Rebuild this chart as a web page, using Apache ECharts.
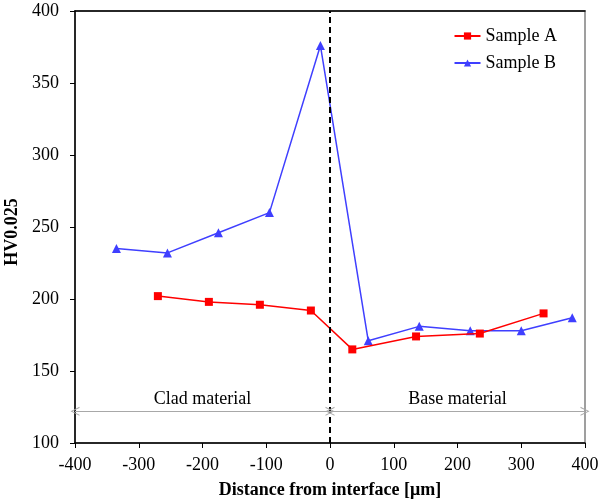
<!DOCTYPE html>
<html>
<head>
<meta charset="utf-8">
<script src="https://cdn.jsdelivr.net/npm/echarts@6/dist/echarts.min.js"></script>
<style>
  html, body { margin: 0; padding: 0; background: #fff; }
  #chart { width: 600px; height: 502px; }
</style>
</head>
<body>
<div id="chart"></div>
<script>
// hardness profile across the interface
var sampleAX = [-270, -190, -110, -30, 35, 135, 235, 335]
var sampleAY = [202, 198, 196, 192, 165, 174, 176, 190]
var sampleBX = [-335, -255, -175, -95, -15, 60, 140, 220, 300, 380]
var sampleBY = [235, 232, 246, 260, 376, 171, 181, 178, 178, 187]
var regionNames = ['Clad material', 'Base material']
var regionSpans = [[-400, 0], [0, 400]]
var arrowLevel = 122

var font = 'Liberation Serif, Times New Roman, serif'
// open arrow head, pointing up (echarts rotates it along the line)
var chevron = 'path://M0,10 L5,0 L10,10 L8.8,10 L5,2.2 L1.2,10 Z'

function pairs(xs, ys) {
  return xs.map(function (x, i) { return [x, ys[i]] })
}

var chart = echarts.init(document.getElementById('chart'))
chart.setOption({
  animation: false,
  textStyle: { fontFamily: font },
  grid: {
    left: 75,
    right: 15,
    top: 11,
    bottom: 59,
    outerBoundsMode: 'none',
    containLabel: false,
    show: true,
    borderColor: '#808080',
    borderWidth: 1.5
  },
  legend: {
    orient: 'vertical',
    right: 38,
    top: 22,
    itemWidth: 26,
    itemHeight: 9,
    itemGap: 9,
    textStyle: { fontFamily: font, fontSize: 18, color: '#000' },
    data: ['Sample A', 'Sample B']
  },
  xAxis: [{
    type: 'value',
    min: -400,
    max: 400,
    interval: 100,
    name: 'Distance from interface [\u03bcm]',
    nameLocation: 'middle',
    nameGap: 38,
    nameTextStyle: { fontFamily: font, fontSize: 18, fontWeight: 'bold', color: '#000' },
    axisLine: { onZero: false, lineStyle: { color: '#000', width: 1.5 } },
    axisTick: { length: 5, lineStyle: { color: '#000' } },
    axisLabel: { margin: 13, fontFamily: font, fontSize: 18, color: '#000' },
    splitLine: { show: false }
  }, {
    // top frame line
    type: 'value',
    position: 'top',
    min: -400,
    max: 400,
    axisLine: { show: true, onZero: false, lineStyle: { color: '#000', width: 1.5 } },
    axisTick: { show: false },
    axisLabel: { show: false },
    splitLine: { show: false }
  }],
  yAxis: {
    type: 'value',
    min: 100,
    max: 400,
    interval: 50,
    name: 'HV0.025',
    nameLocation: 'middle',
    nameGap: 45,
    nameTextStyle: { fontFamily: font, fontSize: 18, fontWeight: 'bold', color: '#000', padding: [0, 10, 0, 0] },
    axisLine: { show: true, onZero: false, lineStyle: { color: '#000', width: 1.5 } },
    axisTick: { show: true, length: 5, lineStyle: { color: '#000' } },
    axisLabel: { margin: 16, fontFamily: font, fontSize: 18, color: '#000' },
    splitLine: { show: false }
  },
  series: [
    {
      name: 'Sample A',
      type: 'line',
      data: pairs(sampleAX, sampleAY),
      symbol: 'rect',
      symbolSize: 8,
      itemStyle: { color: '#ff0000' },
      lineStyle: { color: '#ff0000', width: 1.5 },
      z: 3,
      markLine: {
        silent: true,
        symbol: ['none', 'none'],
        label: { show: false },
        lineStyle: { color: '#000', type: [6, 4], width: 2 },
        data: [{ xAxis: 0 }]
      }
    },
    {
      name: 'Sample B',
      type: 'line',
      data: pairs(sampleBX, sampleBY),
      symbol: 'triangle',
      symbolSize: 9,
      itemStyle: { color: '#3f3fff' },
      lineStyle: { color: '#3f3fff', width: 1.5 },
      z: 2,
      markLine: {
        silent: true,
        symbol: [chevron, chevron],
        symbolSize: [9, 9],
        lineStyle: { color: '#a8a8a8', type: 'solid', width: 1 },
        itemStyle: { color: '#a8a8a8' },
        label: {
          show: true,
          position: 'middle',
          distance: 3,
          fontFamily: font,
          fontSize: 18,
          color: '#000',
          formatter: function (p) { return p.name }
        },
        data: regionSpans.map(function (s, i) {
          return [
            { name: regionNames[i], coord: [s[0], arrowLevel] },
            { coord: [s[1], arrowLevel] }
          ]
        })
      }
    }
  ]
})
</script>
</body>
</html>
